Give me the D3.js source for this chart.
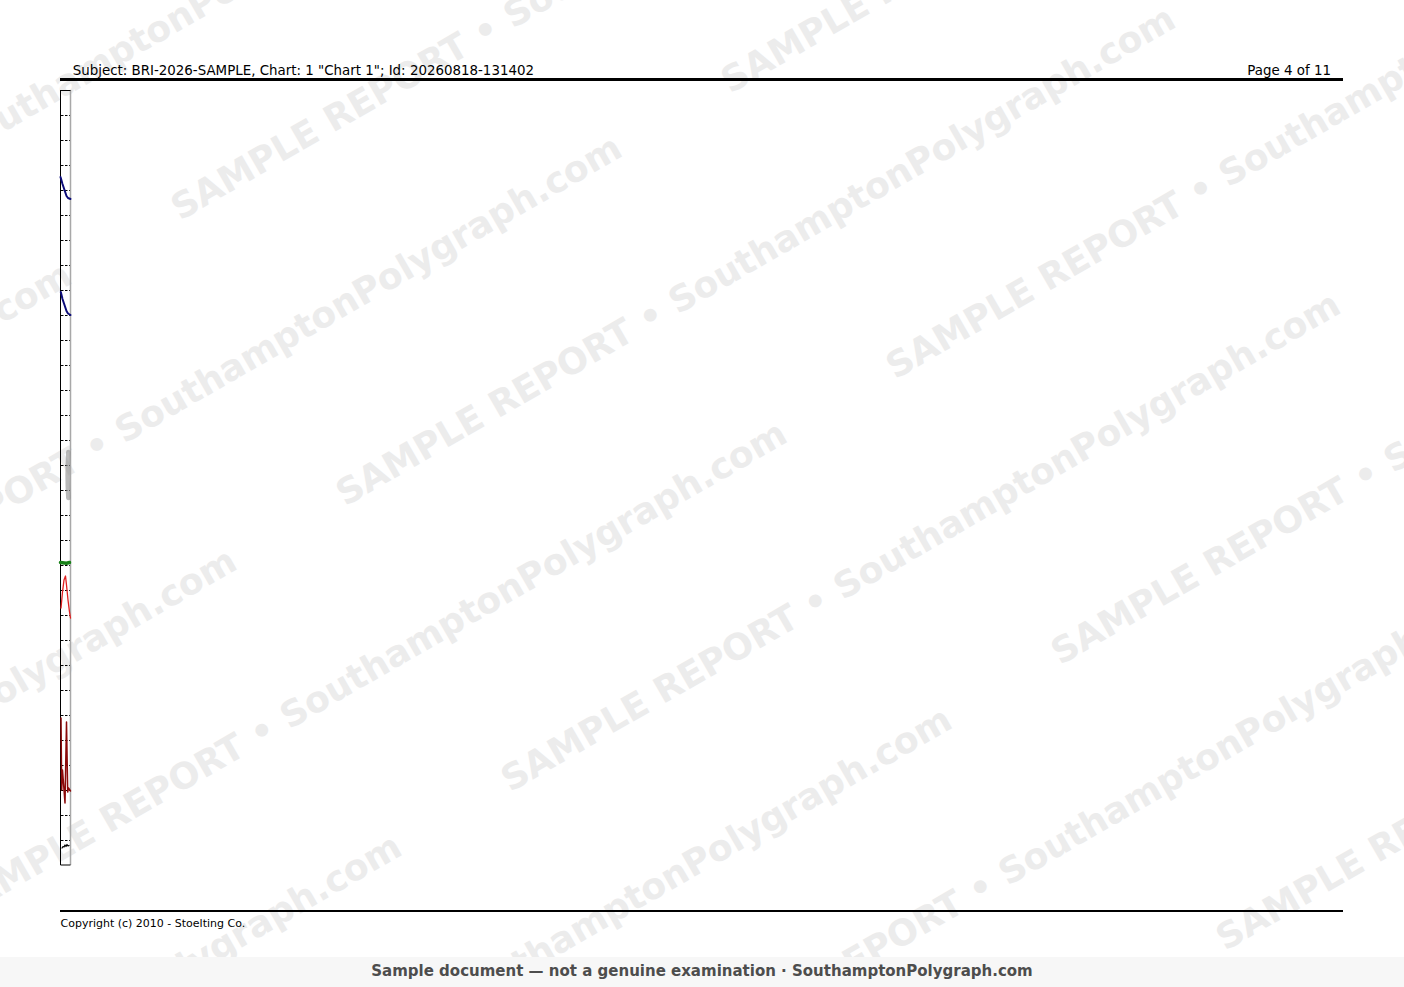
<!DOCTYPE html>
<html><head><meta charset="utf-8">
<script src="https://cdn.jsdelivr.net/npm/d3@7"></script>
<style>html,body{margin:0;padding:0;background:#fff;overflow:hidden}</style>
</head><body><svg id="c" width="1404" height="987"></svg>
<script>
// ---------- texts ----------
const headerLeft = 'Subject: BRI-2026-SAMPLE, Chart: 1 "Chart 1"; Id: 20260818-131402';
const headerRight = 'Page 4 of 11';
const footerText = 'Copyright (c) 2010 - Stoelting Co.';
const bannerText = 'Sample document \u2014 not a genuine examination \u00b7 SouthamptonPolygraph.com';
const watermarkText = 'SAMPLE REPORT \u2022 SouthamptonPolygraph.com';

// ---------- chart grid (divisions from top of strip) ----------
const gridDivisions = d3.range(1, 31);
const timeDomain = [0, 10];      // samples shown in the strip
const divisionDomain = [0, 31];  // vertical chart divisions

// ---------- traces: [sample, division] ----------
const pneumoUpper = [[0,3.48],[2,3.76],[4,4.0],[6,4.24],[7.5,4.32],[10,4.36]];
const pneumoLower = [[0.3,8.08],[2,8.36],[4,8.6],[6,8.84],[7.5,8.94],[10,9.0]];
const greyTrace   = [[7.8,14.48],[7.3,15.0],[7.1,15.4],[7.3,15.88],[7.8,16.32]];
const greenTrace  = [[0,18.9],[6,18.93],[9,18.9]];
const cardioTrace = [[0.5,20.72],[2,20.08],[3.5,19.6],[5,19.44],[6,19.8],[7.5,20.4],[9,20.88],[10,21.12]];
const edaTrace    = [[0.5,25.12],[1.2,28.0],[2,27.2],[4.5,28.52],[6,25.28],[7.2,28.08],[8,27.92],[10,28.04]];
const motionTrace = [[1.5,30.32],[2.5,30.26],[3.5,30.28],[4.5,30.2],[5.5,30.26],[6.5,30.18],[7.5,30.24],[8.5,30.22]];

const svg = d3.select('#c');
const W = 1404, H = 987;

// ---------- watermark ----------
const wm = svg.append('g').attr('transform', 'rotate(-30)')
  .attr('font-family', 'DejaVu Sans').attr('font-weight', 'bold').attr('font-size', 36)
  .attr('fill', '#ececec');
const rowStep = 165, period = 1084;
for (let k = -3; k <= 9; k++) {
  const v = 281.5 + rowStep * k;
  const u0 = 45.5 + ((((k % 2) + 2) % 2) ? 540 : 0);
  for (let n = -2; n <= 2; n++) {
    wm.append('text').attr('x', u0 + n * period).attr('y', v).text(watermarkText);
  }
}

// ---------- header / footer ----------
svg.append('text').attr('x', 72.7).attr('y', 74.5)
  .attr('font-family', 'DejaVu Sans').attr('font-size', 13.4).attr('fill', '#000').text(headerLeft);
svg.append('text').attr('x', 1331).attr('y', 74.5).attr('text-anchor', 'end')
  .attr('font-family', 'DejaVu Sans').attr('font-size', 13.4).attr('fill', '#000').text(headerRight);
svg.append('line').attr('x1', 60).attr('x2', 1343).attr('y1', 79.5).attr('y2', 79.5)
  .attr('stroke', '#000').attr('stroke-width', 3);
svg.append('line').attr('x1', 60).attr('x2', 1343).attr('y1', 911).attr('y2', 911)
  .attr('stroke', '#000').attr('stroke-width', 2);
svg.append('text').attr('x', 60.5).attr('y', 926.7)
  .attr('font-family', 'DejaVu Sans').attr('font-size', 11).attr('fill', '#000').text(footerText);

// ---------- chart strip ----------
const x = d3.scaleLinear().domain(timeDomain).range([60.5, 70.5]);
const y = d3.scaleLinear().domain(divisionDomain).range([90, 865]);

const strip = svg.append('g');
strip.selectAll('line.tick').data(gridDivisions).join('line').attr('class', 'tick')
  .attr('x1', 61).attr('x2', 70).attr('y1', d => y(d) + 0.5).attr('y2', d => y(d) + 0.5)
  .attr('stroke', '#000').attr('stroke-width', 1).attr('stroke-dasharray', '2.5,1.5');
strip.append('line').attr('x1', x(0)).attr('x2', x(0)).attr('y1', y(0)).attr('y2', y(31))
  .attr('stroke', '#000').attr('stroke-width', 1);
strip.append('line').attr('x1', x(10)).attr('x2', x(10)).attr('y1', y(0)).attr('y2', y(31))
  .attr('stroke', '#a8a8a8').attr('stroke-width', 1.5);
strip.append('line').attr('x1', x(0)).attr('x2', x(10)).attr('y1', y(0) + 0.5).attr('y2', y(0) + 0.5)
  .attr('stroke', '#000').attr('stroke-width', 1);
strip.append('line').attr('x1', x(0)).attr('x2', x(10)).attr('y1', y(31)).attr('y2', y(31))
  .attr('stroke', '#000').attr('stroke-width', 1);

const lineLin = d3.line().x(d => x(d[0])).y(d => y(d[1]));
const traces = [
  {data: pneumoUpper, color: '#0b0b78', w: 2, op: 1},
  {data: pneumoLower, color: '#0b0b78', w: 2, op: 1},
  {data: greyTrace,   color: '#8a8a8a', w: 4.5, op: 0.6},
  {data: greenTrace,  color: '#178017', w: 3.5, op: 1},
  {data: cardioTrace, color: '#e02020', w: 1.3, op: 1},
  {data: edaTrace,    color: '#8b0a0a', w: 1.5, op: 1},
  {data: motionTrace, color: '#000', w: 1.2, op: 1}
];
traces.forEach(t => {
  strip.append('path').attr('d', lineLin(t.data)).attr('fill', 'none')
    .attr('stroke', t.color).attr('stroke-width', t.w).attr('stroke-opacity', t.op)
    .attr('stroke-linejoin', 'round').attr('stroke-linecap', 'round');
});

// ---------- bottom banner ----------
svg.append('rect').attr('x', 0).attr('y', 957).attr('width', W).attr('height', H - 957).attr('fill', '#f7f7f7');
svg.append('text').attr('x', 702).attr('y', 976).attr('text-anchor', 'middle')
  .attr('font-family', 'DejaVu Sans').attr('font-weight', 'bold').attr('font-size', 15)
  .attr('fill', '#4d4d4d').text(bannerText);
</script></body></html>
